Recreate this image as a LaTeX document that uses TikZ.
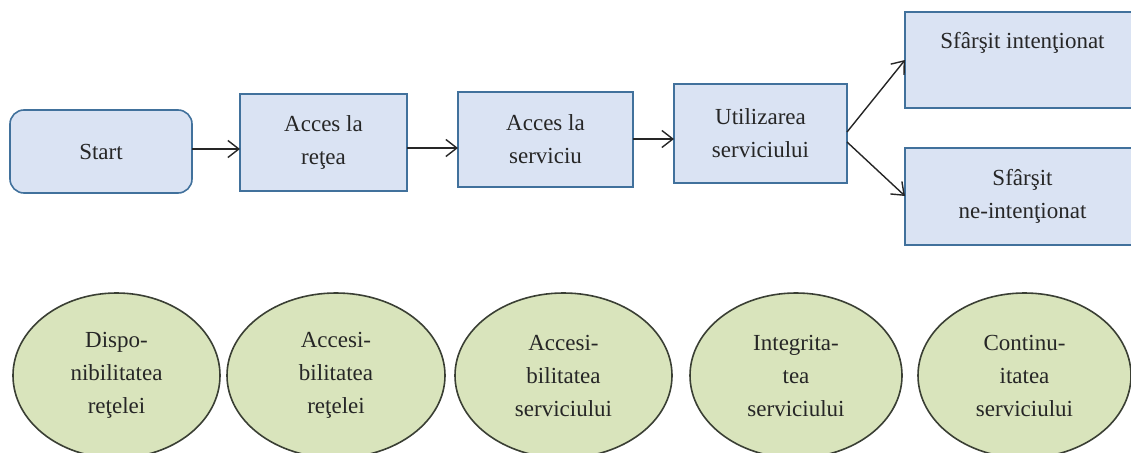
\documentclass[tikz,border=0pt]{standalone}
\usepackage{fontspec}
\setmainfont{Liberation Serif}
\usetikzlibrary{shapes.geometric,arrows.meta}
\definecolor{boxfill}{HTML}{DAE3F3}
\definecolor{boxline}{HTML}{41719C}
\definecolor{ovalfill}{HTML}{D9E4BC}
\definecolor{ovalline}{HTML}{3A3F34}
\tikzset{
  x=1pt,y=-1pt,
  base/.style={font=\fontsize{23}{33}\selectfont,align=center,inner sep=0pt,outer sep=0pt,text=black!85},
  bluebox/.style={base,draw=boxline,fill=boxfill,line width=1.6pt,rectangle},
  startbox/.style={bluebox,rounded corners=14pt},
  oval/.style={base,draw=ovalline,fill=ovalfill,line width=1.6pt,ellipse},
  conn/.style={draw=black!85,line width=1.4pt,-{Straight Barb[length=11pt,width=17pt,line width=1.4pt]}}
}
\newcommand{\bx}[7][bluebox]{% style,name,x0,y0,x1,y1,text
  \node[#1,minimum width=#5pt-#3pt,minimum height=#6pt-#4pt] (#2) at ({(#3+#5)/2},{(#4+#6)/2}) {#7};}
\begin{document}
\begin{tikzpicture}
\useasboundingbox (0,0) rectangle (1131,452);
\bx[startbox]{start}{10}{110}{192}{193}{Start}
\bx{retea}{240}{94}{407}{191}{Acces la\\reţea}
\bx{serv}{458}{92}{633}{187}{Acces la\\serviciu}
\bx{util}{674}{84}{847}{183}{Utilizarea\\serviciului}
\bx{inten}{905}{12}{1140}{108}{Sfârşit intenţionat\\[6pt]\phantom{x}}
\bx{neint}{905}{148}{1140}{245}{Sfârşit\\ne-intenţionat}
\bx[oval]{o1}{13}{293}{220}{458}{Dispo-\\nibilitatea\\reţelei}
\bx[oval]{o2}{227}{293}{445}{458}{Accesi-\\bilitatea\\reţelei}
\bx[oval]{o3}{455}{293}{672}{458}{Accesi-\\bilitatea\\serviciului}
\bx[oval]{o4}{690}{293}{902}{458}{Integrita-\\tea\\serviciului}
\bx[oval]{o5}{918}{293}{1131}{458}{Continu-\\itatea\\serviciului}
\coordinate (a1) at (240,149);
\coordinate (a2) at (458,148);
\coordinate (a3) at (674,139);
\coordinate (u1) at (847,132);
\coordinate (u2) at (847,142);
\coordinate (e1) at (905,60);
\coordinate (e2) at (905,196);
\draw[conn] (start.east |- a1) -- (a1);
\draw[conn] (retea.east |- a2) -- (a2);
\draw[conn] (serv.east |- a3) -- (a3);
\draw[conn] (u1) -- (e1);
\draw[conn] (u2) -- (e2);
\end{tikzpicture}
\end{document}
